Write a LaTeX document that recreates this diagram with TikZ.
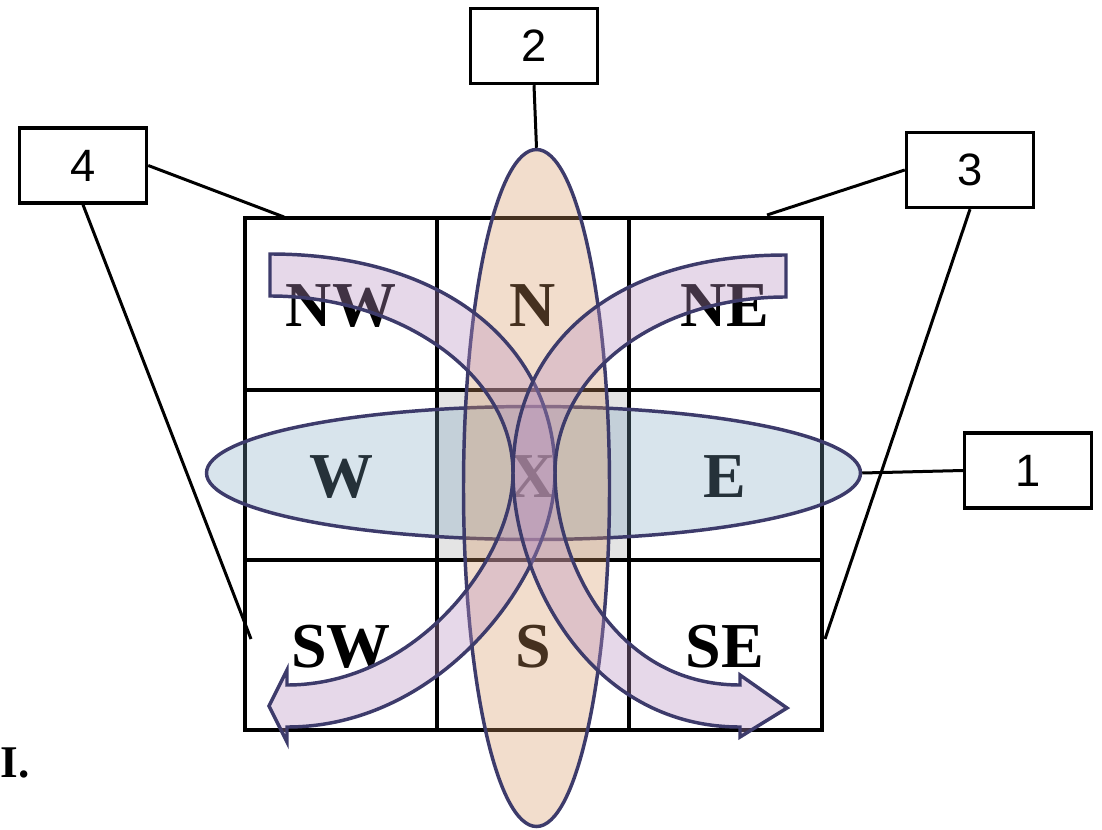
\documentclass[tikz,border=0pt]{standalone}
\usepackage{fontspec}
\setmainfont{Liberation Serif}
\newfontfamily\numfont{Liberation Sans}
\usepackage{xcolor}
\definecolor{cLine}{HTML}{3D3B6B}
\definecolor{cBand}{HTML}{B890C0}
\definecolor{cOrange}{HTML}{D79661}
\definecolor{cBlue}{HTML}{7DA5C0}
\definecolor{cCell}{HTML}{E4E4E4}
\usepackage{tikz}
\usetikzlibrary{shapes.geometric}
\tikzset{
  num-box/.style={draw=black,line width=2.6pt,minimum width=95.25pt,
    minimum height=56.25pt,inner sep=0pt,font=\numfont\fontsize{34}{36}\selectfont},
  cell-label/.style={inner sep=0pt,font=\bfseries\fontsize{48}{50}\selectfont},
  grid-line/.style={draw=black,line width=3pt},
  lead/.style={draw=black,line width=2.25pt},
  ell-node/.style={ellipse,draw=cLine,line width=2.6pt,inner sep=0pt},
  ell-blue/.style={ell-node,fill=cBlue,fill opacity=0.3},
  ell-orange/.style={ell-node,fill=cOrange,fill opacity=0.32},
  arrow-band/.style={draw=cLine,line width=2.6pt,fill=cBand,fill opacity=0.35,
    line join=miter},
}

\begin{document}
\begin{tikzpicture}[x=0.75pt,y=-0.75pt]
  \useasboundingbox (0,0) rectangle (1102,830);
  % grid
  \fill[cCell] (437,390) rectangle (629,560);
  \draw[grid-line] (245,218) rectangle (822,730);
  \foreach \gx in {437,629} \draw[grid-line] (\gx,218) -- (\gx,730);
  \foreach \gy in {390,560} \draw[grid-line] (245,\gy) -- (822,\gy);
  \foreach \lab/\cx/\cy in {NW/341/306,N/533/306,NE/725/306,W/341/477,X/533/477,
      E/725/477,SW/341/647,S/533/647,SE/725/647}
    \node[cell-label] (c\lab) at (\cx,\cy) {\lab};
  \node[inner sep=0pt,anchor=base west,font=\bfseries\fontsize{34}{36}\selectfont]
    (tag) at (0.5,777) {I.};

  \node[num-box] (b2) at (534,46) {2};
  \node[num-box] (b4) at (83,165.5) {4};
  \node[num-box] (b3) at (970,170) {3};
  \node[num-box] (b1) at (1028,470.5) {1};
  \coordinate (p4a) at (284,217);
  \coordinate (p4b) at (251,639);
  \coordinate (p3a) at (767,215);
  \coordinate (p3b) at (825,639);

  \node[ell-blue,minimum width=490.5pt,minimum height=99.75pt] (hell) at (533.5,473) {};
  \node[ell-orange,minimum width=109.5pt,minimum height=507.75pt] (vell) at (536.5,488) {};

  \draw[lead] (b2.south) -- (vell.north);
  \draw[lead] (b4.east) -- (p4a);
  \draw[lead] (b4.south) -- (p4b);
  \draw[lead] (b3.west) -- (p3a);
  \draw[lead] (b3.south) -- (p3b);
  \draw[lead] (b1.west) -- (hell.east);

  % NW -> SW
  \draw[arrow-band] (270,254) .. controls (450,254) and (555,350) .. (555,473)
    .. controls (555,574) and (443,727) .. (287,727) -- (287,742) -- (269,706)
    -- (287,670) -- (287,685) .. controls (417,685) and (513,558) .. (513,473)
    .. controls (513,374) and (400,296) .. (270,296) -- cycle;
  % NE -> SE
  \draw[arrow-band] (786,255) .. controls (606,255) and (513,350) .. (513,473)
    .. controls (513,574) and (587,727) .. (740,727) -- (740,737) -- (787,708)
    -- (740,675) -- (740,685) .. controls (613,685) and (555,558) .. (555,473)
    .. controls (555,374) and (656,297) .. (786,297) -- cycle;
\end{tikzpicture}
\end{document}
